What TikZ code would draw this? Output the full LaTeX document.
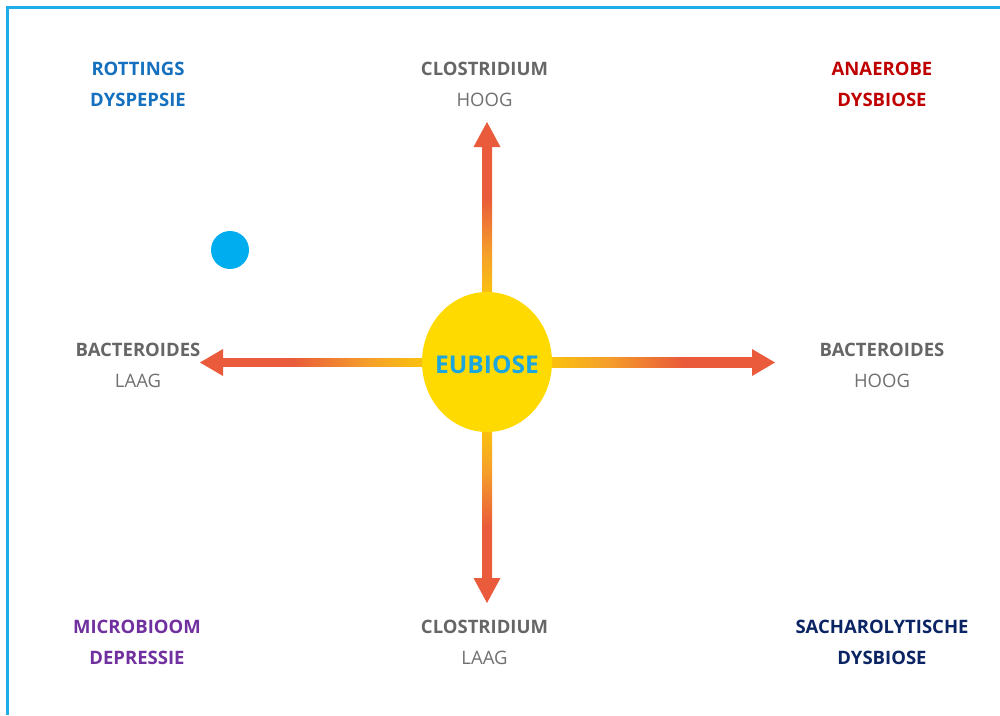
\documentclass[tikz,border=0pt]{standalone}
\usepackage{fontspec}
\setmainfont{Open Sans}
\usetikzlibrary{shapes.geometric,calc}

\definecolor{frameblue}{HTML}{1DAEEA}
\definecolor{sunyellow}{HTML}{FFDA00}
\definecolor{shaftyellow}{HTML}{FCD200}
\definecolor{shaftmid}{HTML}{F5A02A}
\definecolor{arrowred}{HTML}{E95B3A}
\definecolor{eubioseblue}{HTML}{1BA6DF}
\definecolor{dotblue}{HTML}{00AEEF}
\definecolor{labelgray}{HTML}{666666}
\definecolor{levelgray}{HTML}{707070}
\definecolor{rotblue}{HTML}{1570BF}
\definecolor{anared}{HTML}{C00000}
\definecolor{micropurple}{HTML}{7030A0}
\definecolor{sachnavy}{HTML}{0B2463}

% shaft fades: yellow next to the disc, red towards the tip
\pgfdeclarehorizontalshading{shaftE}{100bp}{color(0bp)=(shaftyellow); color(19bp)=(shaftyellow);
  color(39bp)=(shaftmid); color(58bp)=(arrowred); color(100bp)=(arrowred)}
\pgfdeclarehorizontalshading{shaftW}{100bp}{color(0bp)=(arrowred); color(42bp)=(arrowred);
  color(61bp)=(shaftmid); color(81bp)=(shaftyellow); color(100bp)=(shaftyellow)}
\pgfdeclareverticalshading{shaftN}{100bp}{color(0bp)=(shaftyellow); color(19bp)=(shaftyellow);
  color(39bp)=(shaftmid); color(58bp)=(arrowred); color(100bp)=(arrowred)}
\pgfdeclareverticalshading{shaftS}{100bp}{color(0bp)=(arrowred); color(42bp)=(arrowred);
  color(61bp)=(shaftmid); color(81bp)=(shaftyellow); color(100bp)=(shaftyellow)}

\tikzset{
  lbl/.style={align=center, inner sep=0pt, font=\fontsize{18.5}{31}\selectfont\bfseries},
  axislbl/.style={lbl, text=labelgray},
  head/.style={fill=arrowred},
}

\begin{document}
\begin{tikzpicture}[x=1pt,y=-1pt]
  \useasboundingbox (0,0) rectangle (1000,715);
  \fill[white] (0,0) rectangle (1000,715);

  % frame along the top and left edges
  \draw[frameblue, line width=2.6pt] (7.2,715) -- (7.2,7.5) -- (1000,7.5);

  % centre and arrow tips
  \coordinate (c) at (487,362);
  \coordinate (tN) at (487,122);  \coordinate (bN) at (487,147);
  \coordinate (tS) at (487,603);  \coordinate (bS) at (487,578);
  \coordinate (tW) at (200,362.5);\coordinate (bW) at (223,362.5);
  \coordinate (tE) at (775,362.5);\coordinate (bE) at (752,362.5);

  \node[ellipse, minimum width=130pt, minimum height=140pt, inner sep=0pt] (eub) at (c) {};

  % shafts
  \shade[shading=shaftN] ($(bN)+(-5,0)$) rectangle ($(eub.north)+(5,4)$);
  \shade[shading=shaftS] ($(eub.south)+(-5,-4)$) rectangle ($(bS)+(5,0)$);
  \shade[shading=shaftW] ($(bW)+(0,-4.5)$) rectangle ($(eub.west)+(4,4.5)$);
  \shade[shading=shaftE] ($(eub.east)+(-4,-4.5)$) rectangle ($(bE)+(0,4.5)$);

  % arrow heads
  \fill[head] (tN) -- ($(bN)+(-13.5,0)$) -- ($(bN)+(13.5,0)$) -- cycle;
  \fill[head] (tS) -- ($(bS)+(-13.5,0)$) -- ($(bS)+(13.5,0)$) -- cycle;
  \fill[head] (tW) -- ($(bW)+(0,-13.5)$) -- ($(bW)+(0,13.5)$) -- cycle;
  \fill[head] (tE) -- ($(bE)+(0,-13.5)$) -- ($(bE)+(0,13.5)$) -- cycle;

  % centre disc
  \fill[sunyellow] (eub.center) ellipse [x radius=65, y radius=70];
  \node[text=eubioseblue, font=\fontsize{24.5}{28}\selectfont\bfseries] (eubtxt) at (487,364.5) {EUBIOSE};

  % blue marker
  \fill[dotblue] (230,250) circle [radius=19];
  \node[inner sep=0pt] (dot) at (230,250) {};

  % axis labels
  \node[axislbl] (clhigh) at (484.5,84) {CLOSTRIDIUM\\{\mdseries\color{levelgray}HOOG}};
  \node[axislbl] (cllow)  at (484.5,642.5) {CLOSTRIDIUM\\{\mdseries\color{levelgray}LAAG}};
  \node[axislbl] (bclow)  at (138,365)  {BACTEROIDES\\{\mdseries\color{levelgray}LAAG}};
  \node[axislbl] (bchigh) at (882,365)  {BACTEROIDES\\{\mdseries\color{levelgray}HOOG}};

  % quadrant labels
  \node[lbl, text=rotblue]     (rot)  at (138,84) {ROTTINGS\\DYSPEPSIE};
  \node[lbl, text=anared]      (ana)  at (882,84) {ANAEROBE\\DYSBIOSE};
  \node[lbl, text=micropurple] (mic)  at (137,642.5) {MICROBIOOM\\DEPRESSIE};
  \node[lbl, text=sachnavy]    (sac)  at (882,642.5) {SACHAROLYTISCHE\\DYSBIOSE};
\end{tikzpicture}
\end{document}
